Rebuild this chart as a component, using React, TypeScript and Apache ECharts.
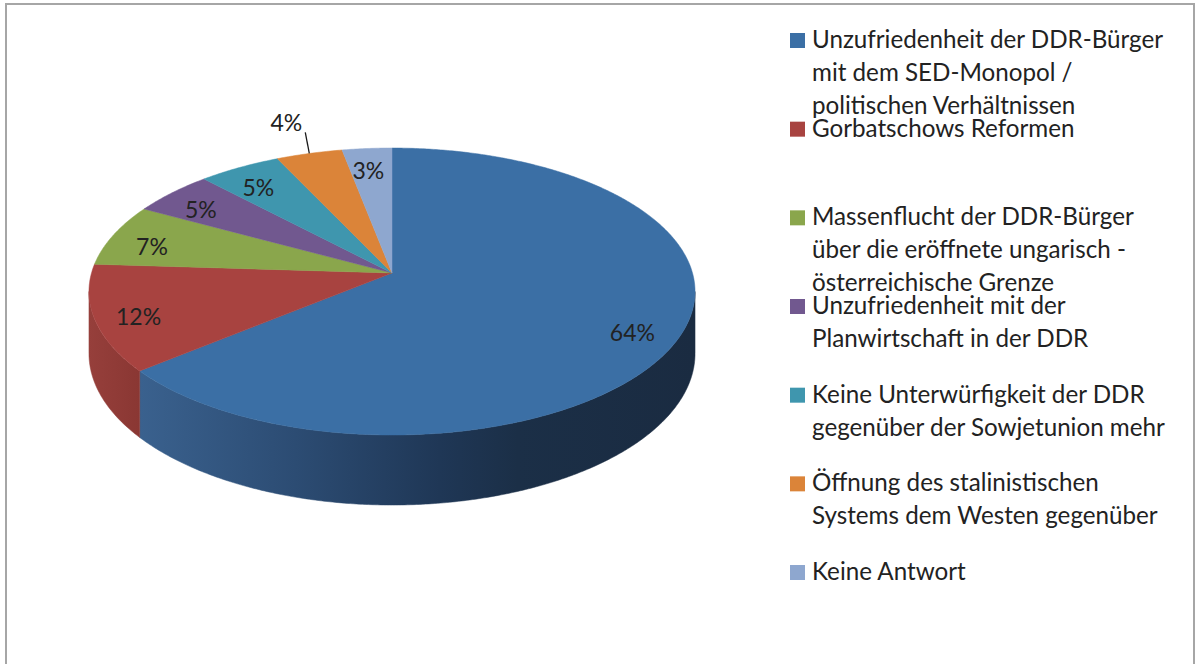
import { useEffect, useRef } from "react";
import * as echarts from "echarts";

// ---- data ----
const categories: string[] = [
  "Unzufriedenheit der DDR-Bürger\nmit dem SED-Monopol /\npolitischen Verhältnissen",
  "Gorbatschows Reformen",
  "Massenflucht der DDR-Bürger\nüber die eröffnete ungarisch -\nösterreichische Grenze",
  "Unzufriedenheit mit der\nPlanwirtschaft in der DDR",
  "Keine Unterwürfigkeit der DDR\ngegenüber der Sowjetunion mehr",
  "Öffnung des stalinistischen\nSystems dem Westen gegenüber",
  "Keine Antwort",
];
const values: number[] = [64, 12, 7, 5, 5, 4, 3];

// ---- style ----
const topColors = ["#3b6fa5", "#a84340", "#8aa64c", "#71588f", "#3f96ae", "#db8439", "#8ea7cf"];
const sideStops: [number, string][][] = [
  [[0, "#3a618e"], [0.28, "#2c4c73"], [0.54, "#1f3756"], [0.68, "#1b2f47"], [1, "#1a2b41"]],
  [[0, "#963f3b"], [1, "#8a3733"]],
  [[0, "#7a9443"], [1, "#6f8a3c"]],
  [[0, "#5f4a79"], [1, "#55416d"]],
  [[0, "#357f94"], [1, "#2f7385"]],
  [[0, "#bb6f2f"], [1, "#a8632a"]],
  [[0, "#7a90b2"], [1, "#6e83a3"]],
];
const outsideLabelIndex = 5;
const FONT = "Lato, 'Open Sans', sans-serif";
const TEXT = "#222222";
const LEGEND_FS = 24.2;
const LABEL_FS = 23;

// projection of the tilted disc
const CX = 392, CY = 273, K = 300.5, M = 141.1, E = 0.129, DEPTH = 61;
const proj = (phiDeg: number, r: number) => {
  const p = (phiDeg * Math.PI) / 180;
  const u = r * Math.sin(p);
  const v = r * Math.cos(p);
  const w = 1 + E * v;
  return [CX + (K * u) / w, CY - (M * v) / w, w];
};
const PHI_R = (Math.acos(-E) * 180) / Math.PI;
const PHI_L = 360 - PHI_R;

export default function App() {
  const ref = useRef<HTMLDivElement>(null);
  useEffect(() => {
    if (!ref.current) return;
    const chart = echarts.init(ref.current, undefined, { renderer: "svg" });
    const total = values.reduce((a, b) => a + b, 0);
    let acc = 0;
    const data = values.map((v) => {
      const d = [v, acc];
      acc += v;
      return d;
    });

    const arc = (a: number, b: number, r: number) => {
      const pts: number[][] = [];
      const n = Math.max(2, Math.ceil((b - a) / 0.5));
      for (let i = 0; i <= n; i++) {
        const p = proj(a + ((b - a) * i) / n, r);
        pts.push([p[0], p[1]]);
      }
      return pts;
    };

    const renderItem = (params: any, api: any) => {
      const idx = params.dataIndex;
      const val = api.value(0);
      const start = api.value(1);
      const a0 = (start / total) * 360;
      const a1 = ((start + val) / total) * 360;
      const children: any[] = [];
      // outer visible wall
      const s = Math.max(a0, PHI_R);
      const t = Math.min(a1, PHI_L);
      if (t > s) {
        const n = Math.max(2, Math.ceil((t - s) / 0.5));
        const topPts: number[][] = [];
        const botPts: number[][] = [];
        for (let i = 0; i <= n; i++) {
          const p = proj(s + ((t - s) * i) / n, 1);
          topPts.push([p[0], p[1]]);
          botPts.push([p[0], p[1] + DEPTH / p[2]]);
        }
        const xs = topPts.map((p) => p[0]);
        const xmin = Math.min(...xs), xmax = Math.max(...xs);
        const grad = new echarts.graphic.LinearGradient(
          xmin, 0, xmax, 0,
          sideStops[idx].map(([o, c]) => ({ offset: o, color: c })),
          true
        );
        children.push({
          type: "polygon",
          shape: { points: topPts.concat(botPts.reverse()) },
          style: { fill: grad, stroke: grad, lineWidth: 0.5 },
        });
      }
      // top face
      const c = proj(0, 0);
      children.push({
        type: "polygon",
        shape: { points: [[c[0], c[1]]].concat(arc(a0, a1, 1)) },
        style: { fill: topColors[idx], stroke: topColors[idx], lineWidth: 0.5 },
      });
      // label
      const mid = (a0 + a1) / 2;
      const txt = `${val}%`;
      if (idx === outsideLabelIndex) {
        const e = proj(mid, 1);
        const ex = e[0], ey = e[1];
        const lx = ex - 4, ly = ey - 21;
        children.push({
          type: "line",
          shape: { x1: ex, y1: ey, x2: lx, y2: ly },
          style: { stroke: "#1a1a1a", lineWidth: 1.3 },
        });
        children.push({
          type: "text",
          style: { text: txt, x: lx - 3, y: ly - 10, align: "right", verticalAlign: "middle", font: `${LABEL_FS}px ${FONT}`, fill: TEXT },
        });
      } else {
        const p = proj(mid, 0.85);
        children.push({
          type: "text",
          style: { text: txt, x: p[0] - 2, y: p[1] + 5, align: "center", verticalAlign: "middle", font: `${LABEL_FS}px ${FONT}`, fill: TEXT },
        });
      }
      return { type: "group", children };
    };

    // legend drawn as graphic
    const legend: any[] = [];
    const base0 = 48, step = 88.67, lh = 33;
    categories.forEach((name, i) => {
      const base = base0 + step * i;
      legend.push({
        type: "rect",
        shape: { x: 790, y: base - 15, width: 15, height: 15 },
        style: { fill: topColors[i] },
      });
      name.split("\n").forEach((line, k) => {
        legend.push({
          type: "text",
          style: {
            text: line,
            x: 812,
            y: base + k * lh - 0.39 * LEGEND_FS,
            verticalAlign: "middle",
            font: `${LEGEND_FS}px ${FONT}`,
            fill: TEXT,
          },
        });
      });
    });

    chart.setOption({
      animation: false,
      graphic: [
        {
          type: "rect",
          shape: { x: 6, y: 4, width: 1188, height: 700 },
          style: { fill: "none", stroke: "#a6a6a6", lineWidth: 2 },
          silent: true,
        },
        ...legend,
      ],
      series: [
        {
          type: "custom",
          coordinateSystem: "none",
          renderItem,
          data,
        },
      ],
    });
    return () => chart.dispose();
  }, []);
  return (
    <div
      ref={ref}
      style={{ position: "absolute", left: 0, top: 0, width: 1197, height: 664, background: "#fff" }}
    />
  );
}
